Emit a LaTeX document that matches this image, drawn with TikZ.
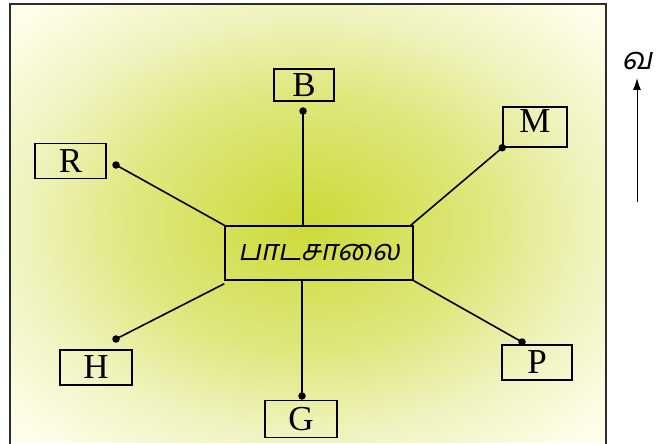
\documentclass[tikz,border=0pt]{standalone}
\usepackage{fontspec}
\setmainfont{Liberation Serif}
\newfontfamily\tamilfont[Script=Tamil, FakeSlant=0.2]{Hind Madurai}
\usetikzlibrary{arrows.meta}
\usetikzlibrary{positioning}
\definecolor{mglowin}{RGB}{205, 218, 55}
\definecolor{mglowmid}{RGB}{224, 231, 128}
\definecolor{mglowlow}{RGB}{240, 243, 190}
\definecolor{mglowout}{RGB}{255, 253, 233}
\definecolor{mframe}{RGB}{45, 45, 45}
\pgfdeclareradialshading{mglow}{\pgfpointorigin}{color(0bp)=(mglowin); color(15bp)=(mglowmid); color(24bp)=(mglowlow); color(33bp)=(mglowout); color(50bp)=(mglowout)}
\tikzset{circ/.style = {fill, circle, inner sep = 0, minimum size = 7.5}}
\tikzset{place/.style = {draw, line width = 1.5, inner sep = 0, font = \fontsize{35}{35}\selectfont}}
\tikzset{link/.style = {line width = 1.6}}

\begin{document}
\begin{tikzpicture}[x=1pt, y=-1pt]
      \useasboundingbox (0, 0) rectangle (662, 444);
      \shade [shading=mglow] (10, 4) rectangle (606, 442);
      \draw [line width = 2.8, mframe] (10, 4) rectangle (606, 448);

      \node [draw, line width = 1.5, minimum width = 188, minimum height = 54, inner sep = 0] (school) at (319, 253) {\tamilfont\fontsize{29}{29}\selectfont பாடசாலை};

      \node [place, minimum width = 60, minimum height = 32] (B) at (304, 85) {B};
      \node [place, minimum width = 64, minimum height = 40, text depth = 11] (M) at (535, 127) {M};
      \node [place, minimum width = 71, minimum height = 35] (R) at (70.5, 161) {R};
      \node [place, minimum width = 72, minimum height = 35] (H) at (96, 367.5) {H};
      \node [place, minimum width = 70, minimum height = 35] (P) at (537, 362.5) {P};
      \node [place, minimum width = 72, minimum height = 37] (G) at (301, 419) {G};

      \node [circ] (dotB) at (303, 111) {};
      \node [circ] (dotM) at (M.south west) {};
      \node [circ] (dotR) at (116, 165) {};
      \node [circ] (dotH) at (116, 339) {};
      \node [circ] (dotP) at (522, 342) {};
      \node [circ] (dotG) at (302, 396) {};

      \draw [link] (dotB.center) -- (dotB |- school.north);
      \draw [link] (dotG.center) -- (dotG |- school.south);
      \draw [link] (dotM.center) -- ([xshift=-3]school.north east);
      \draw [link] (dotR.center) -- (school.north west);
      \draw [link] (dotH.center) -- ([yshift=-3]school.south west);
      \draw [link] (dotP.center) -- (school.south east);

      \coordinate (tail) at (637, 202);
      \coordinate (tip) at (637, 78);
      \draw [line width = 1, -{Latex[length=12pt, width=8pt]}] (tail) -- (tip);
      \node (north) at (637, 61) {\tamilfont\fontsize{31}{31}\selectfont வ};
\end{tikzpicture}
\end{document}
